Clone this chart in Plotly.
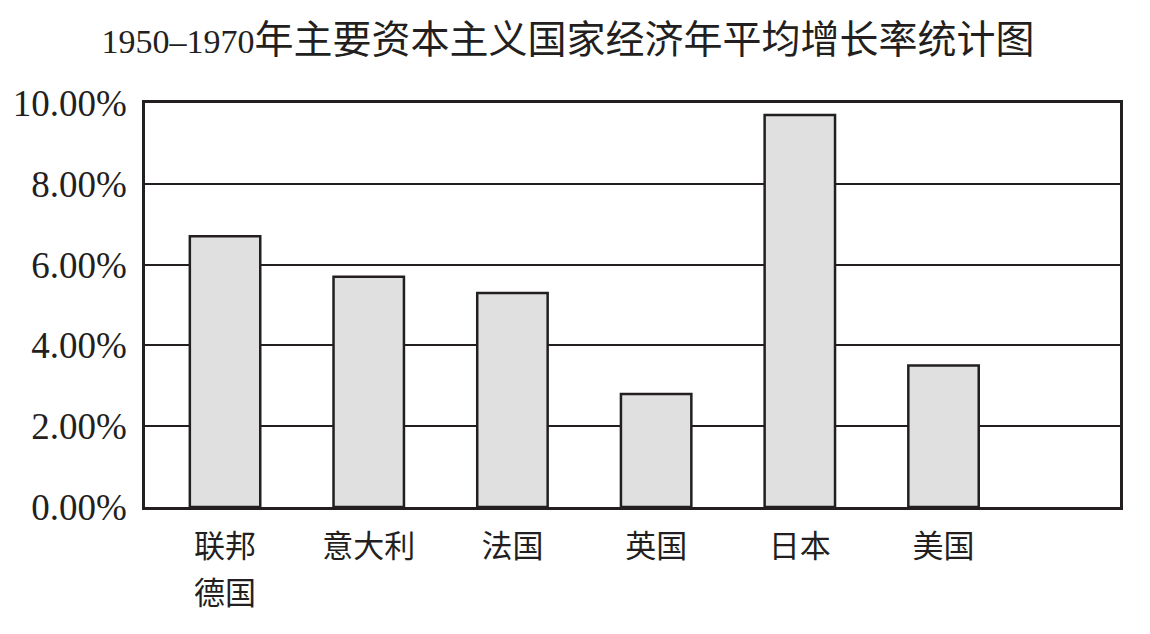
import plotly.graph_objects as go

categories = ["联邦<br>德国", "意大利", "法国", "英国", "日本", "美国"]
growth_rates = [6.7, 5.7, 5.3, 2.8, 9.7, 3.5]
y_ticks = [0, 2, 4, 6, 8, 10]
y_tick_labels = ["0.00%", "2.00%", "4.00%", "6.00%", "8.00%", "10.00%"]
title_years = "1950–1970"
title_rest = "年主要资本主义国家经济年平均增长率统计图"

ink = "#231f20"
x_pos = list(range(len(categories)))


def label_span(txt):
    return "<br>".join(
        "<span style='font-size:31px'>%s</span>" % part for part in txt.split("<br>")
    )


fig = go.Figure(
    go.Bar(
        x=x_pos,
        y=growth_rates,
        width=0.49,
        marker=dict(color="#e0e0e0", line=dict(color=ink, width=2.5)),
        hoverinfo="skip",
    )
)

fig.update_layout(
    width=1150,
    height=634,
    margin=dict(l=137, r=38, t=95, b=135),
    paper_bgcolor="white",
    plot_bgcolor="white",
    showlegend=False,
    title=dict(
        text="<span style='font-size:34px'>%s</span>%s" % (title_years, title_rest),
        x=0.487,
        xanchor="center",
        y=1 - 31 / 634,
        yanchor="middle",
        yref="container",
        font=dict(family="Liberation Serif, Noto Sans CJK SC", size=39, color=ink),
    ),
    font=dict(family="Liberation Serif, Noto Sans CJK SC", color=ink),
)

fig.update_xaxes(
    range=[-0.557, 6.228],
    tickvals=x_pos,
    ticktext=[label_span(c) for c in categories],
    tickfont=dict(family="Noto Sans CJK SC", size=36, color=ink),
    showgrid=False,
    zeroline=False,
    showline=True,
    mirror=True,
    linecolor=ink,
    linewidth=2.5,
    ticks="",
    ticklabelstandoff=4,
    automargin=False,
)

fig.update_yaxes(
    range=[0, 10],
    tickvals=y_ticks,
    ticktext=y_tick_labels,
    tickfont=dict(family="Liberation Serif", size=37, color=ink),
    showgrid=True,
    gridcolor=ink,
    gridwidth=2.2,
    zeroline=False,
    showline=True,
    mirror=True,
    linecolor=ink,
    linewidth=2.5,
    ticks="",
    ticklabelstandoff=8,
    automargin=False,
)

fig.write_html("out.html")
